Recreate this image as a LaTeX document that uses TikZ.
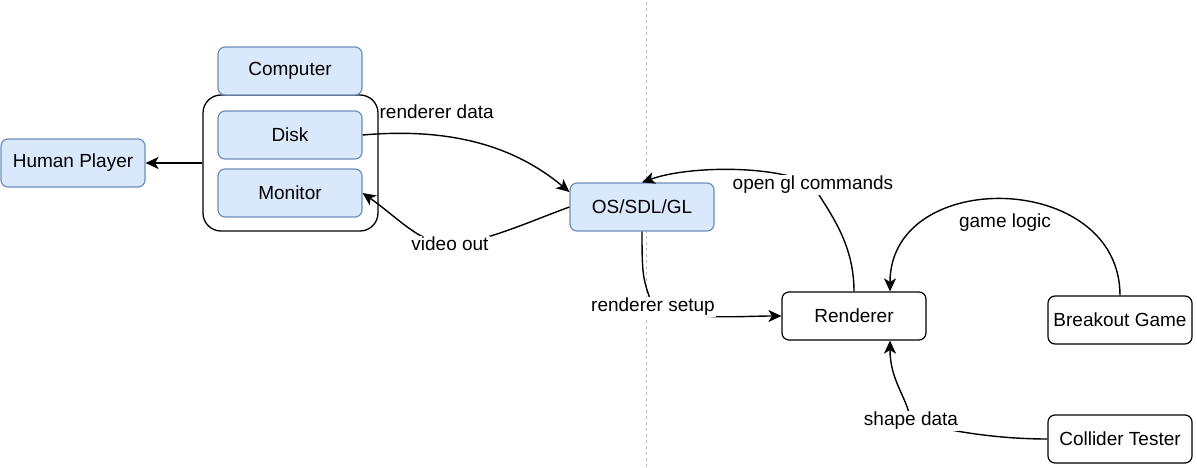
\documentclass[tikz,border=0pt]{standalone}
\usepackage{fontspec}
\setmainfont{Liberation Sans}
\usetikzlibrary{arrows.meta}
\newcommand{\boxWidth}[0]{144pt}
\newcommand{\boxHeight}[0]{48pt}
\newcommand{\edgeWidth}[0]{1.4pt}
\definecolor{boxfill}{HTML}{DAE8FC}
\definecolor{boxline}{HTML}{6C8EBF}
\definecolor{splitgray}{HTML}{BBBBBB}

\begin{document}
\begin{tikzpicture}[x=1pt, y=1pt, font=\fontsize{19pt}{22pt}\selectfont]
  \tikzset{
    blue box/.style={draw=boxline, fill=boxfill, rounded corners=7pt, line width=1.2pt,
      minimum width=\boxWidth, minimum height=\boxHeight},
    white box/.style={draw=black, fill=white, rounded corners=7pt, line width=1.2pt,
      minimum width=\boxWidth, minimum height=\boxHeight},
    edge label/.style={fill=white, inner sep=1pt},
    flow/.style={line width=\edgeWidth, -{Stealth[length=13pt,width=12pt,inset=3.5pt]}}
  }
  \useasboundingbox (0,0) rectangle (1197,467);
  \draw[splitgray, line width=0.8pt, dash pattern=on 3pt off 3pt] (646,0) -- (646,467);
  \node[draw, rounded corners=18pt, line width=1.3pt, minimum width=175pt, minimum height=136pt] (Box-1) at (290.5,304) {};
  \node[blue box] (Computer-1) at (290,396) {Computer};
  \node[blue box] (Disk-1) at (290,332) {Disk};
  \node[blue box] (Monitor-1) at (290,274) {Monitor};
  \node[blue box] (Player-1) at (73,304) {Human Player};
  \node[blue box] (OS-1) at (642,260) {OS/SDL/GL};
  \node[white box] (Renderer-1) at (854,151) {Renderer};
  \node[white box] (Game-1) at (1120,147) {Breakout Game};
  \node[white box] (Collider-1) at (1120,28) {Collider Tester};
  \draw[flow] (Box-1.west) -- (Player-1.east);
  \draw[flow] (Disk-1.east) .. controls +(5:90) and +(140:70) .. ([yshift=15pt]OS-1.west) node[edge label, pos=0.3, above=15pt] {renderer data};
  \draw[flow] (OS-1.west) .. controls +(200:40) and +(0:30) .. (450,223) node[edge label] {video out} .. controls +(180:30) and +(-35:45) .. (Monitor-1.east);
  \draw[flow] (OS-1.south) .. controls +(270:45) and +(110:30) .. (653,160) node[edge label] {renderer setup} .. controls +(-20:40) and +(180:40) .. (Renderer-1.west);
  \draw[flow] (Renderer-1.north) .. controls +(90:50) and +(-60:30) .. (813,282) node[edge label] {open gl commands} .. controls +(150:40) and +(20:50) .. (OS-1.north);
  \draw[flow] (Game-1.north) .. controls +(90:125) and +(90:125) .. ([xshift=36pt]Renderer-1.north) node[edge label, midway, below=12pt] {game logic};
  \draw[flow] (Collider-1.west) .. controls +(180:50) and +(-15:40) .. (911,46) node[edge label] {shape data} .. controls +(100:25) and +(270:40) .. ([xshift=36pt]Renderer-1.south);
\end{tikzpicture}
\end{document}
